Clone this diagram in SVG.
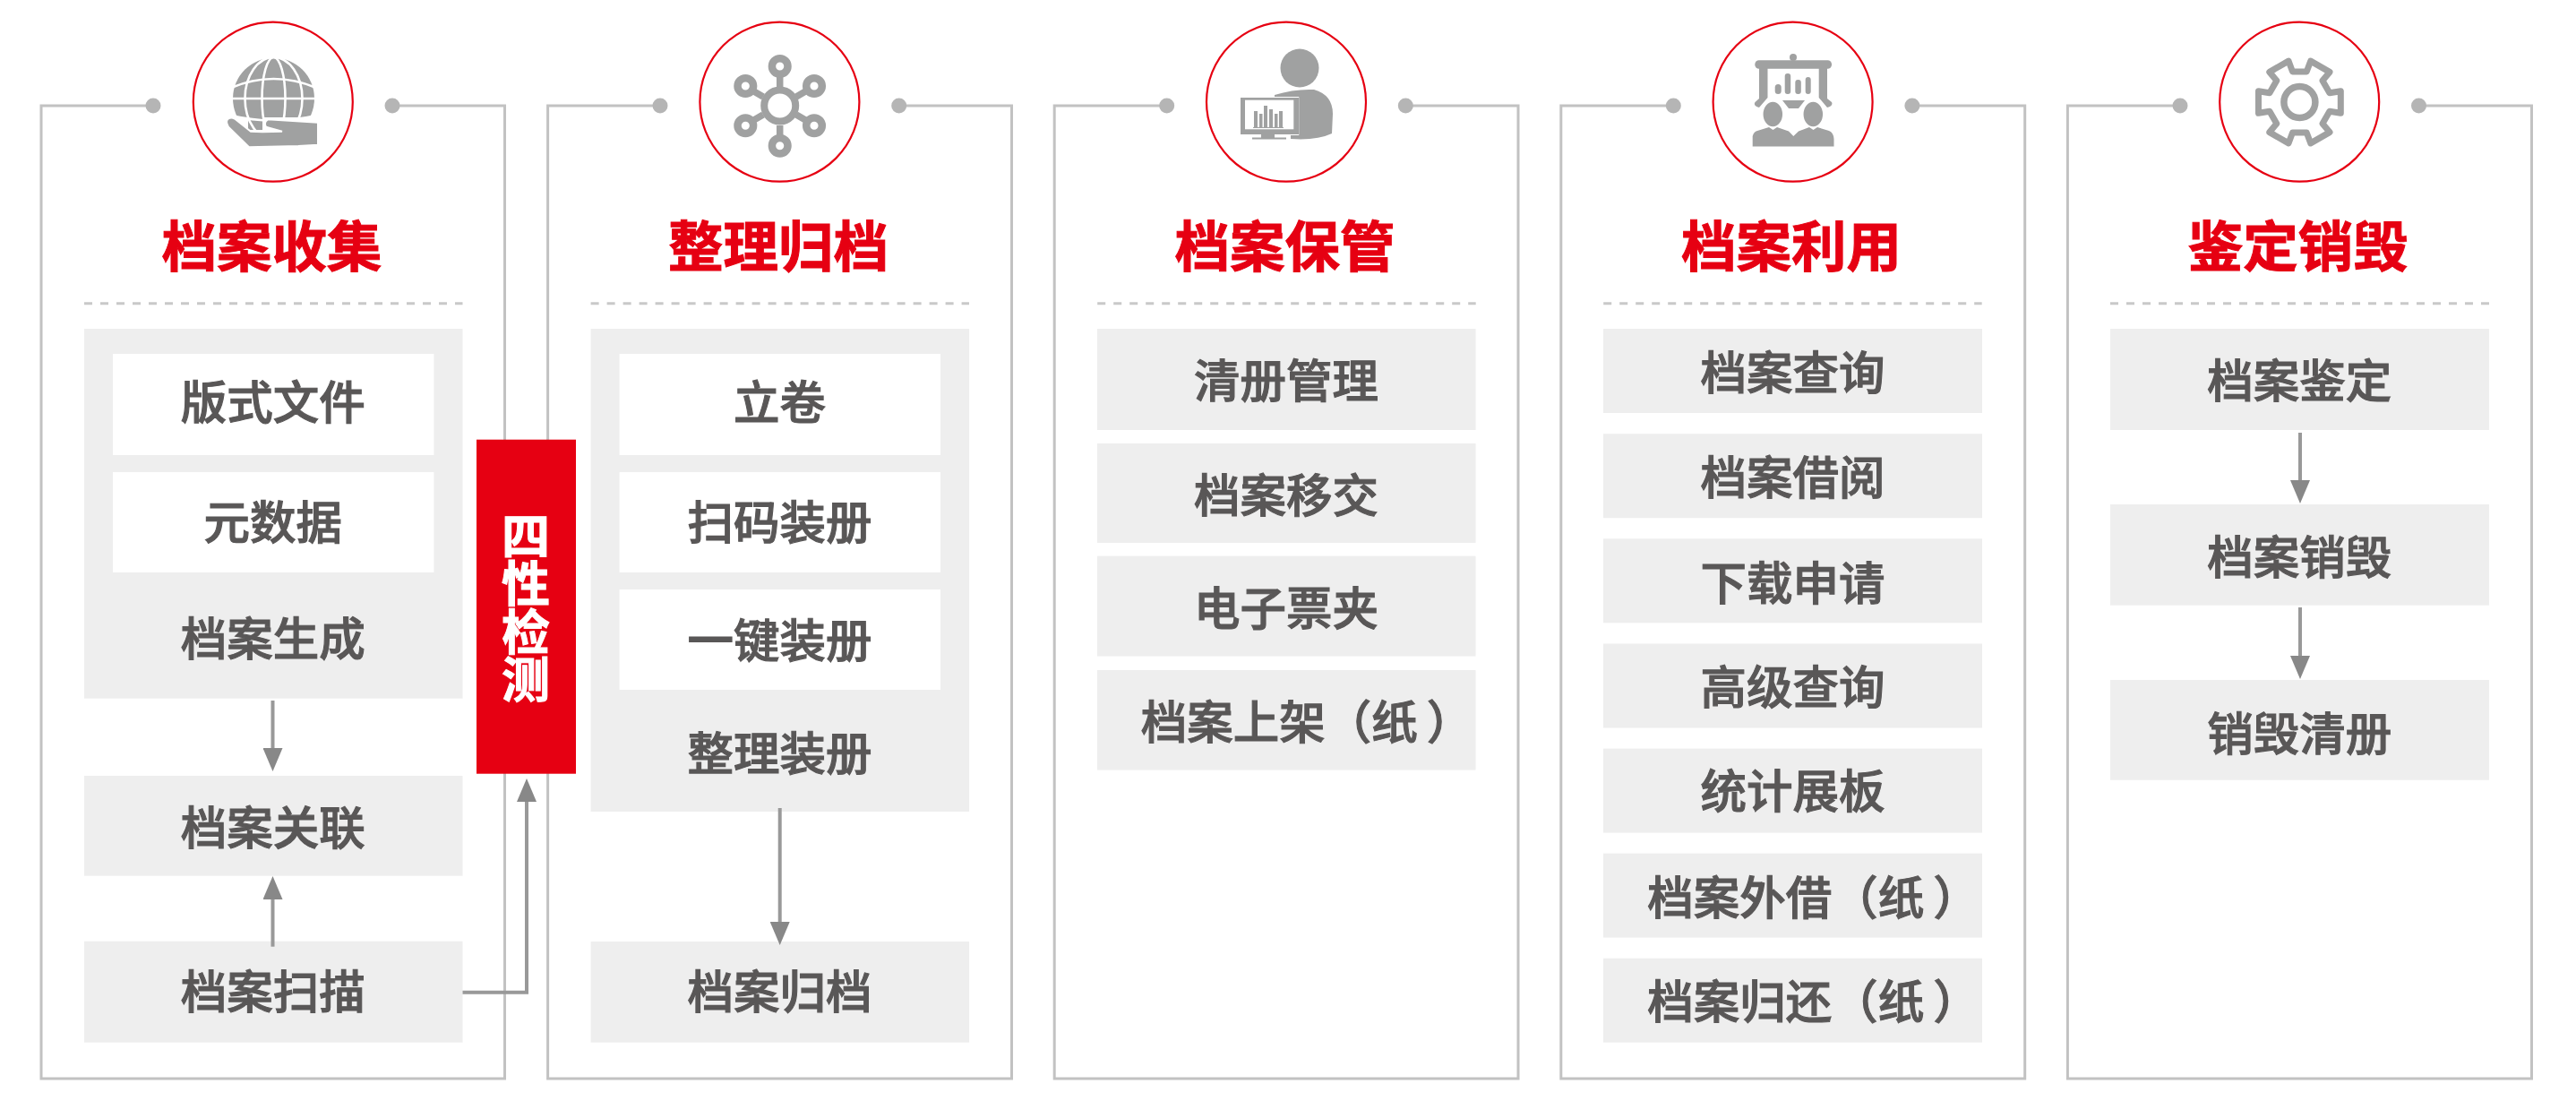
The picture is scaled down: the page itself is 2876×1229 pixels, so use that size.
<svg xmlns="http://www.w3.org/2000/svg" width="2876" height="1229" viewBox="0 0 2876 1229">
<style>
text{font-family:"Noto Sans CJK SC","Liberation Sans",sans-serif;text-anchor:middle}
.l{font-size:51.5px;font-weight:500;fill:#595757;stroke:#595757;stroke-width:1.1px}
.t{font-size:61.5px;font-weight:700;fill:#e60012;stroke:#e60012;stroke-width:1px}
.v{font-size:54px;font-weight:700;fill:#fff;stroke:#fff;stroke-width:1px;writing-mode:vertical-rl;letter-spacing:-0.7px}
.f{fill:none;stroke:#c2c2c2;stroke-width:3}
.d{fill:#b5b5b5}
.ring{fill:#fff;stroke:#e60012;stroke-width:2.2}
.dash{stroke:#c9c9c9;stroke-width:3;stroke-dasharray:9 9;fill:none}
.g{fill:#eeeeee}
.w{fill:#ffffff}
.i{fill:#a0a1a1}
.il{fill:none;stroke:#a0a1a1}
.c{fill:none;stroke:#999999;stroke-width:4;marker-end:url(#ah)}
</style>
<defs>
<marker id="ah" markerUnits="userSpaceOnUse" viewBox="0 0 26 22" markerWidth="26" markerHeight="22" refX="1" refY="11" orient="auto"><path d="M0 0L26 11L0 22Z" fill="#888888"/></marker>
<clipPath id="gc"><path d="M250 60H360V131H293V145H277V131H250Z"/></clipPath>
</defs>
<rect width="2876" height="1229" fill="#fff"/>

<g id="col1">
<path class="f" d="M171 118H46V1204H563.5V118H438"/>
<circle class="d" cx="171" cy="118" r="8.5"/><circle class="d" cx="438" cy="118" r="8.5"/>
<circle class="ring" cx="304.8" cy="113.7" r="89"/>
<g id="icon-globe">
<g clip-path="url(#gc)"><circle class="i" cx="305.5" cy="110" r="45.5"/>
<g fill="none" stroke="#fff" stroke-width="2.6"><ellipse cx="305.5" cy="110" rx="13" ry="46"/><ellipse cx="305.5" cy="110" rx="32" ry="46"/><path d="M258 98Q305.5 78 353 98M258 110H353M258 129Q305.5 140 353 129"/></g></g>
<path class="i" stroke="#fff" stroke-width="2" d="M355 136.7V161.7L333 163L278 164.3L255 141.7Q251 135 255 132.5Q258 130.5 262 132.5L280 146.7L293 147.3L315 146.7L297 141.7Q294 136 299 133.3Z"/>
</g>
<text class="t" x="303.5" y="298">档案收集</text>
<path class="dash" d="M94 338.7H516.5"/>
</g>

<g id="col1-generate">
<rect class="g" x="94" y="367" width="422.5" height="412.7"/>
<g id="n-banshi"><rect class="w" x="126" y="395" width="358.4" height="113"/><text class="l" x="304.8" y="468">版式文件</text></g>
<g id="n-yuanshuju"><rect class="w" x="126" y="527" width="358.4" height="112"/><text class="l" x="304.8" y="602">元数据</text></g>
<text id="n-shengcheng" class="l" x="304.8" y="732">档案生成</text>
</g>
<g id="n-guanlian"><rect class="g" x="94" y="866" width="422.5" height="111.7"/><text class="l" x="304.8" y="943">档案关联</text></g>
<g id="n-saomiao"><rect class="g" x="94" y="1050.7" width="422.5" height="113"/><text class="l" x="304.8" y="1126">档案扫描</text></g>

<g id="col2">
<path class="f" d="M737 118H611.6V1204H1129.5V118H1003.7"/>
<circle class="d" cx="737" cy="118" r="8.5"/><circle class="d" cx="1003.7" cy="118" r="8.5"/>
<circle class="ring" cx="870.4" cy="113.7" r="89"/>
<g id="icon-network" class="il" stroke-width="7.5">
<path d="M870.7 97V82M870.7 140V154M852 108L840 101M889 108L901 101M852 128L840 135M889 128L901 135"/>
<circle cx="870.7" cy="118" r="17.5" stroke-width="8"/>
<circle cx="870.7" cy="74" r="8.8" stroke-width="8.5"/><circle cx="870.7" cy="162.7" r="8.8" stroke-width="8.5"/>
<circle cx="832.3" cy="96" r="8.8" stroke-width="8.5"/><circle cx="909" cy="96" r="8.8" stroke-width="8.5"/>
<circle cx="832.3" cy="140.3" r="8.8" stroke-width="8.5"/><circle cx="909" cy="140.3" r="8.8" stroke-width="8.5"/>
</g>
<text class="t" x="868.9" y="298">整理归档</text>
<path class="dash" d="M659.6 338.7H1082"/>
</g>
<g id="col2-arrange">
<rect class="g" x="659.6" y="367" width="422.5" height="539"/>
<g id="n-lijuan"><rect class="w" x="691.6" y="395" width="358.4" height="113"/><text class="l" x="870.4" y="468">立卷</text></g>
<g id="n-saoma"><rect class="w" x="691.6" y="527" width="358.4" height="112"/><text class="l" x="870.4" y="602">扫码装册</text></g>
<g id="n-yijian"><rect class="w" x="691.6" y="658" width="358.4" height="112"/><text class="l" x="870.4" y="734">一键装册</text></g>
<text id="n-zhengli" class="l" x="870.4" y="860">整理装册</text>
</g>
<g id="n-guidang"><rect class="g" x="659.6" y="1051" width="422.5" height="112.7"/><text class="l" x="870.4" y="1126">档案归档</text></g>

<g id="col3">
<path class="f" d="M1302.7 118H1177.2V1204H1695V118H1569.3"/>
<circle class="d" cx="1302.7" cy="118" r="8.5"/><circle class="d" cx="1569.3" cy="118" r="8.5"/>
<circle class="ring" cx="1436" cy="113.7" r="89"/>
<g id="icon-person">
<circle class="i" cx="1451" cy="76" r="21.5"/>
<path class="i" d="M1423 106Q1445 99 1467 100Q1488 106 1488 127L1487 149Q1470 157 1441 155V151H1452V108H1423Z"/>
<rect class="i" x="1385" y="109" width="65" height="41"/>
<rect class="w" x="1390" y="111.7" width="54.3" height="32.6"/>
<path class="il" stroke="#fff" stroke-width="2.5" d="M1451.5 108V152"/>
<path class="i" d="M1408 150H1423V153.5H1436V155.5H1398V153.5H1408Z"/>
<path class="i" d="M1400 124h4v18h-4zM1406 127h3.5v15h-3.5zM1411 118h4v24h-4zM1417 122h4v20h-4zM1423 127h3.5v15h-3.5zM1428 124h4v18h-4zM1399 142h34v1h-34z"/>
</g>
<text class="t" x="1434.5" y="298">档案保管</text>
<path class="dash" d="M1225.2 338.7H1647.7"/>
</g>
<g id="n-qingce"><rect class="g" x="1225" y="367" width="422.5" height="113"/><text class="l" x="1436" y="444">清册管理</text></g>
<g id="n-yijiao"><rect class="g" x="1225" y="495" width="422.5" height="111"/><text class="l" x="1436" y="572">档案移交</text></g>
<g id="n-piaojia"><rect class="g" x="1225" y="620.6" width="422.5" height="112"/><text class="l" x="1436" y="697.5">电子票夹</text></g>
<g id="n-shangjia"><rect class="g" x="1225" y="748" width="422.5" height="111.6"/><text class="l" x="1459" y="824.5">档案上架（纸<tspan dx="10">）</tspan></text></g>

<g id="col4">
<path class="f" d="M1868.3 118H1742.8V1204H2260.7V118H2134.9"/>
<circle class="d" cx="1868.3" cy="118" r="8.5"/><circle class="d" cx="2134.9" cy="118" r="8.5"/>
<circle class="ring" cx="2001.6" cy="113.7" r="89"/>
<g id="icon-present">
<rect class="i" x="1959.3" y="67.3" width="85.7" height="9.4" rx="4.5"/>
<circle class="i" cx="2002" cy="64" r="4"/>
<path class="i" d="M1964 76H1973.5V109L1964 120Q1957 118 1959.5 114L1964 110ZM2030.7 76H2040V110L2045 114Q2047 118 2040 120L2030.7 109Z"/>
<path class="i" d="M1990 112H2015L2008 121H1997Z"/>
<rect class="i" x="1981.7" y="94" width="7" height="11" rx="3.5"/><rect class="i" x="1992.7" y="82" width="6.5" height="23" rx="3"/><rect class="i" x="2004.3" y="89" width="6.5" height="16" rx="3"/><rect class="i" x="2015.7" y="86" width="6" height="19" rx="3"/>
<ellipse class="i" stroke="#fff" stroke-width="2.5" cx="1979.3" cy="127.5" rx="12" ry="15"/>
<ellipse class="i" stroke="#fff" stroke-width="2.5" cx="2024.3" cy="127.5" rx="12" ry="15"/>
<path class="i" d="M1956.7 163.5V152Q1958 147 1962 146L1975 142L1979.5 145L1984 142L1997 146.5L2002.3 152L2008 146.5L2020 142L2024.5 145L2029 142L2042 146Q2047 148 2047.5 155V163.5Z"/>
</g>
<text class="t" x="2000.1" y="298">档案利用</text>
<path class="dash" d="M1790.2 338.7H2212.7"/>
</g>
<g id="n-chaxun"><rect class="g" x="1790" y="367" width="423" height="94"/><text class="l" x="2001.6" y="435">档案查询</text></g>
<g id="n-jieyue"><rect class="g" x="1790" y="484.2" width="423" height="94"/><text class="l" x="2001.6" y="552">档案借阅</text></g>
<g id="n-xiazai"><rect class="g" x="1790" y="601.3" width="423" height="94"/><text class="l" x="2001.6" y="669.5">下载申请</text></g>
<g id="n-gaoji"><rect class="g" x="1790" y="718.5" width="423" height="94"/><text class="l" x="2001.6" y="786">高级查询</text></g>
<g id="n-tongji"><rect class="g" x="1790" y="835.6" width="423" height="94"/><text class="l" x="2001.6" y="901.5">统计展板</text></g>
<g id="n-waijie"><rect class="g" x="1790" y="952.6" width="423" height="94"/><text class="l" x="2024.6" y="1020.5">档案外借（纸<tspan dx="10">）</tspan></text></g>
<g id="n-guihuan"><rect class="g" x="1790" y="1069.7" width="423" height="94"/><text class="l" x="2024.6" y="1136.5">档案归还（纸<tspan dx="10">）</tspan></text></g>

<g id="col5">
<path class="f" d="M2434 118H2308.4V1204H2826.5V118H2700.5"/>
<circle class="d" cx="2434" cy="118" r="8.5"/><circle class="d" cx="2700.5" cy="118" r="8.5"/>
<circle class="ring" cx="2567.2" cy="113.7" r="89"/>
<g id="icon-gear" class="il" transform="translate(2567.4 114)">
<path stroke-width="7" stroke-linejoin="round" d="M45.9 -12.3L45.9 12.3L33.5 10.2L25.6 23.9L33.6 33.6L12.3 45.9L7.9 34.1L-7.9 34.1L-12.3 45.9L-33.6 33.6L-25.6 23.9L-33.5 10.2L-45.9 12.3L-45.9 -12.3L-33.5 -10.2L-25.6 -23.9L-33.6 -33.6L-12.3 -45.9L-7.9 -34.1L7.9 -34.1L12.3 -45.9L33.6 -33.6L25.6 -23.9L33.5 -10.2Z"/>
<circle r="17.5" stroke-width="7.5"/>
</g>
<text class="t" x="2565.7" y="298">鉴定销毁</text>
<path class="dash" d="M2356 338.7H2779"/>
</g>
<g id="n-jianding"><rect class="g" x="2356" y="367" width="423" height="113"/><text class="l" x="2567.2" y="444">档案鉴定</text></g>
<g id="n-xiaohui"><rect class="g" x="2356" y="563" width="423" height="112.7"/><text class="l" x="2567.2" y="641">档案销毁</text></g>
<g id="n-qingce2"><rect class="g" x="2356" y="759" width="423" height="111.7"/><text class="l" x="2567.2" y="837.5">销毁清册</text></g>

<g id="n-sixing"><rect x="532" y="490.7" width="111" height="373" fill="#e60012"/>
<text class="v" x="587" y="678">四性检测</text></g>

<g id="connectors">
<path class="c" d="M304.5 782V836"/>
<path class="c" d="M304.5 1056.7V1003"/>
<path class="c" d="M516.5 1107.7H588V894"/>
<path class="c" d="M870.7 902V1030"/>
<path class="c" d="M2568 483V537"/>
<path class="c" d="M2568 678V733"/>
</g>
</svg>
